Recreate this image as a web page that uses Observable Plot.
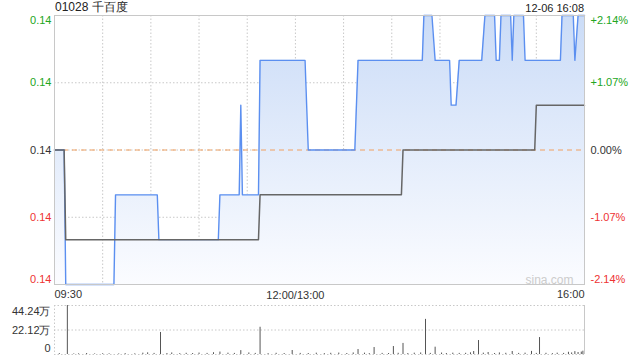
<!DOCTYPE html>
<html><head><meta charset="utf-8">
<script src="https://cdn.jsdelivr.net/npm/d3@7"></script>
<script src="https://cdn.jsdelivr.net/npm/@observablehq/plot@0.6"></script>
<style>
body{margin:0;background:#fff;}
#wrap{position:relative;width:640px;height:360px;overflow:hidden;font-family:"Liberation Sans",Arial,sans-serif;}
#main{position:absolute;left:0;top:0;}
#vol{position:absolute;left:0;top:300px;}
#title{position:absolute;left:55px;top:0px;font-size:12px;line-height:14px;color:#222;}
#date{position:absolute;right:56px;top:2px;font-size:11px;line-height:13px;color:#222;}
</style></head>
<body>
<div id="wrap">
  <div id="main"></div>
  <div id="vol"></div>
  <div id="title">01028 千百度</div>
  <div id="date">12-06 16:08</div>
</div>
<script>
// ---- data (minutes since 09:30, lunch break removed; 330 = 16:00) ----
const prevClose = 0.140;
const priceTimes  = [0,6,7,37,38,64,65,102,103,115,116,117,127,128,156,158,187,189,229,230,235,237,246,247,250,252,266,268,274,275,277,278,284,285,286,292,293,315,316,323,324,326,330];
const priceValues = [.140,.140,.137,.137,.139,.139,.138,.138,.139,.139,.141,.139,.139,.142,.142,.140,.140,.142,.142,.143,.143,.142,.142,.141,.141,.142,.142,.143,.143,.142,.142,.143,.143,.142,.143,.143,.142,.142,.143,.143,.142,.143,.143];
const avgTimes  = [0,6,7,127,128,216,217,299,300,330];
const avgValues = [.140,.140,.138,.138,.139,.139,.140,.140,.141,.141];
const volTimes  = [3,8,12,15,20,25,30,34,40,44,50,55,58,62,66,70,73,78,82,86,90,95,99,103,108,112,116,121,125,128,133,138,143,148,153,158,163,168,172,177,182,186,189,193,196,199,204,208,211,214,217,220,224,228,231,234,237,241,244,248,252,256,259,261,264,267,270,274,277,281,285,289,293,297,300,302,306,310,313,317,320,322,324,326,328,329];
const volValues = [0.8,44.24,0.5,0.6,0.9,0.5,0.7,0.6,0.5,0.8,0.6,1.2,1.5,1.0,19.9,0.9,1.4,0.8,1.1,0.9,1.3,1.0,1.6,2.2,1.2,1.0,3.5,1.4,1.0,24.6,0.8,1.1,0.9,3.6,1.0,0.9,1.2,0.8,1.1,1.3,0.9,1.4,4.5,1.2,0.8,6.3,1.0,0.9,7.2,1.1,10.0,0.9,1.2,1.4,31.7,1.0,6.6,1.3,0.9,1.2,1.0,1.1,1.5,2.7,12.6,1.2,1.8,0.9,1.4,1.1,2.7,1.0,1.2,2.8,1.0,15.3,1.1,0.8,1.2,1.0,2.0,1.4,2.6,1.8,2.2,3.0];
const yTicks = [0.137, 0.1385, 0.140, 0.1415, 0.143];
const xGridTimes = [30,60,90,120,150,180,210,240,270,300];
const xLabelTimes = [0,150,330];
const xLabels = ["09:30","12:00/13:00","16:00"];
const volTicks = [0, 22.12, 44.24];
const volTickLabels = ["0","22.12万","44.24万"];

const price = priceTimes.map((t,i)=>({t, p: priceValues[i]}));
const avg = avgTimes.map((t,i)=>({t, p: avgValues[i]}));
const vol = volTimes.map((t,i)=>({t, v: volValues[i]}));

const GREEN = "#22a622", RED = "#ee3333", DARK = "#333";
const col = v => v > prevClose + 1e-9 ? GREEN : (v < prevClose - 1e-9 ? RED : DARK);
const pct = v => { const r = (v - prevClose) / prevClose * 100; return (r > 0.0001 ? "+" : "") + r.toFixed(2) + "%"; };

const yMin = d3.min(yTicks), yMax = d3.max(yTicks);
const dotted = {stroke:"#c8c8c8", strokeDasharray:"1.5,2"};
const font = {fontFamily:'"Liberation Sans",Arial,sans-serif', fontSize:"11px", background:"transparent"};
const inner = yTicks.slice(1, -1);

const main = Plot.plot({
  width: 640, height: 300,
  marginLeft: 54, marginRight: 56, marginTop: 15, marginBottom: 16,
  style: font,
  x: {domain: [0, 330], axis: null},
  y: {domain: [yMin, yMax], axis: null},
  marks: [
    Plot.ruleX(xGridTimes, {...dotted}),
    Plot.ruleY(inner, {...dotted}),
    Plot.areaY(price, {x: "t", y1: yMin, y2: "p", fill: "url(#pgrad)"}),
    Plot.ruleY([prevClose], {stroke: "#f0a060", strokeDasharray: "5,4"}),
    Plot.line(price, {x: "t", y: "p", stroke: "#5b8ff0", strokeWidth: 1.4}),
    Plot.line(avg, {x: "t", y: "p", stroke: "#666", strokeWidth: 1.5}),
    Plot.frame({stroke: "#c8c8c8"}),
    // left labels
    Plot.text(inner, {y: d=>d, text: d=>d.toFixed(2), fill: d=>col(d), frameAnchor:"left", textAnchor:"end", dx:-3}),
    Plot.text([yMax], {y: d=>d, text: d=>d.toFixed(2), fill: d=>col(d), frameAnchor:"left", textAnchor:"end", dx:-3, dy:5}),
    Plot.text([yMin], {y: d=>d, text: d=>d.toFixed(2), fill: d=>col(d), frameAnchor:"left", textAnchor:"end", dx:-3, dy:-5}),
    // right labels
    Plot.text(inner, {y: d=>d, text: d=>pct(d), fill: d=>col(d), frameAnchor:"right", textAnchor:"start", dx:6}),
    Plot.text([yMax], {y: d=>d, text: d=>pct(d), fill: d=>col(d), frameAnchor:"right", textAnchor:"start", dx:6, dy:5}),
    Plot.text([yMin], {y: d=>d, text: d=>pct(d), fill: d=>col(d), frameAnchor:"right", textAnchor:"start", dx:6, dy:-5}),
    // x labels
    Plot.text([0], {x: d=>xLabelTimes[d], text: d=>xLabels[d], frameAnchor:"bottom", lineAnchor:"middle", textAnchor:"start", dy:10, fill:DARK}),
    Plot.text([1], {x: d=>xLabelTimes[d], text: d=>xLabels[d], frameAnchor:"bottom", lineAnchor:"middle", textAnchor:"middle", dy:11, fill:DARK}),
    Plot.text([2], {x: d=>xLabelTimes[d], text: d=>xLabels[d], frameAnchor:"bottom", lineAnchor:"middle", textAnchor:"end", dy:10, fill:DARK}),
    // watermark
    Plot.text(["sina.com"], {frameAnchor:"bottom-right", lineAnchor:"bottom", textAnchor:"end", dx:-11, dy:-1, fill:"#cccccc", fontSize:12})
  ]
});
const ns = "http://www.w3.org/2000/svg";
const defs = document.createElementNS(ns, "defs");
defs.innerHTML = '<linearGradient id="pgrad" x1="0" y1="0" x2="0" y2="1"><stop offset="0" stop-color="#cbdcf7"/><stop offset="1" stop-color="#fbfcff"/></linearGradient>';
main.insertBefore(defs, main.firstChild);
document.getElementById("main").appendChild(main);

const volPlot = Plot.plot({
  width: 640, height: 60,
  marginLeft: 54, marginRight: 56, marginTop: 5, marginBottom: 6,
  style: font,
  x: {domain: [0, 330], axis: null},
  y: {domain: [0, d3.max(volTicks)], axis: null},
  marks: [
    Plot.ruleY(volTicks, {...dotted}),
    Plot.ruleX([0], {...dotted}),
    Plot.ruleX([330], {stroke: "#c8c8c8"}),
    Plot.ruleX(vol, {x: "t", y1: 0, y2: "v", stroke: "#555", strokeWidth: 1}),
    Plot.text([1], {y: d=>volTicks[d], text: d=>volTickLabels[d], frameAnchor:"left", textAnchor:"end", dx:-4, fill:DARK}),
    Plot.text([2], {y: d=>volTicks[d], text: d=>volTickLabels[d], frameAnchor:"left", textAnchor:"end", dx:-4, dy:6, fill:DARK}),
    Plot.text([0], {y: d=>volTicks[d], text: d=>volTickLabels[d], frameAnchor:"left", textAnchor:"end", dx:-4, dy:-6, fill:DARK})
  ]
});
document.getElementById("vol").appendChild(volPlot);
</script>
</body></html>
